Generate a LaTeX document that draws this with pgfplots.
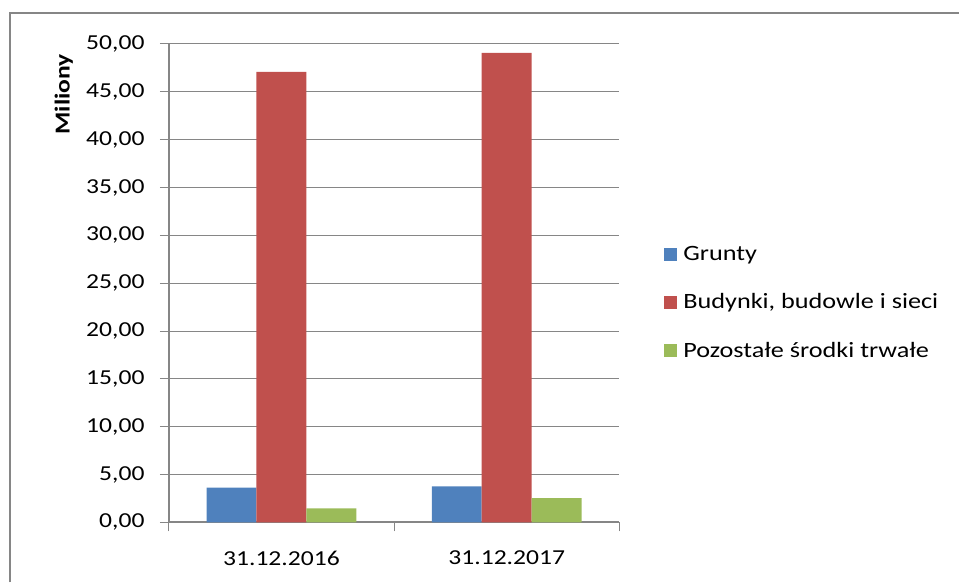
\documentclass[border=0pt]{standalone}
\usepackage{fontspec}
\setmainfont{Carlito}[FakeStretch=1.2]
\usepackage{pgfplots}
\pgfplotsset{compat=1.18}
\definecolor{cblue}{HTML}{4F81BD}
\definecolor{cred}{HTML}{C0504D}
\definecolor{cgreen}{HTML}{9BBB59}
\definecolor{cgrid}{HTML}{868686}
\newcommand{\fs}{\fontsize{16}{19}\selectfont}
\newcommand{\fl}{\fontsize{16.4}{19}\selectfont}
\begin{document}
\begin{tikzpicture}
\path (0pt,0pt) rectangle (720pt,437.25pt);
\draw[cgrid, line width=1.5pt] (7.5pt,0pt) -- (7.5pt,427.5pt) -- (720pt,427.5pt);
\begin{axis}[
  at={(126.75pt,45pt)}, anchor=south west,
  scale only axis, width=338.25pt, height=359.25pt,
  ybar=0pt, bar width=37.5pt,
  xmin=0.5, xmax=2.5, ymin=0, ymax=50,
  ytick={0,5,...,50},
  xtick={1,2}, xticklabels={31.12.2016,31.12.2017},
  minor xtick={0.5,1.5,2.5},
  major x tick style={draw=none},
  minor x tick style={cgrid, line width=0.75pt},
  y tick style={cgrid, line width=0.75pt},
  tick align=outside, major tick length=6.75pt, minor tick length=6.75pt,
  axis x line*=bottom, axis y line*=left,
  axis line style={cgrid, line width=1.5pt, -},
  ymajorgrids, grid style={cgrid, line width=0.75pt},
  /pgf/number format/.cd, fixed, fixed zerofill, precision=2, use comma, assume math mode=true,
  /pgfplots/.cd,
  yticklabel style={font=\fs, xshift=-8pt},
  xticklabel style={font=\fs, yshift=-11pt},
  legend style={draw=none, at={(1.089,0.459)}, anchor=west, font=\fl, row sep=19.5pt,
    legend cell align=left, /tikz/every odd column/.append style={column sep=3pt}},
  legend image code/.code={\fill[#1, draw=none] (0pt,-4.9pt) rectangle (9.75pt,4.9pt);},
]
\addplot[fill=cblue, draw=none] coordinates {(1,3.65) (2,3.76)};
\addplot[fill=cred, draw=none] coordinates {(1,47.08) (2,49.06)};
\addplot[fill=cgreen, draw=none] coordinates {(1,1.46) (2,2.55)};
\legend{Grunty, {Budynki, budowle i sieci}, Pozostałe środki trwałe}
\end{axis}
\node[rotate=90, font=\fs\bfseries] at (48pt,366.4pt) {Miliony};
\end{tikzpicture}
\end{document}
